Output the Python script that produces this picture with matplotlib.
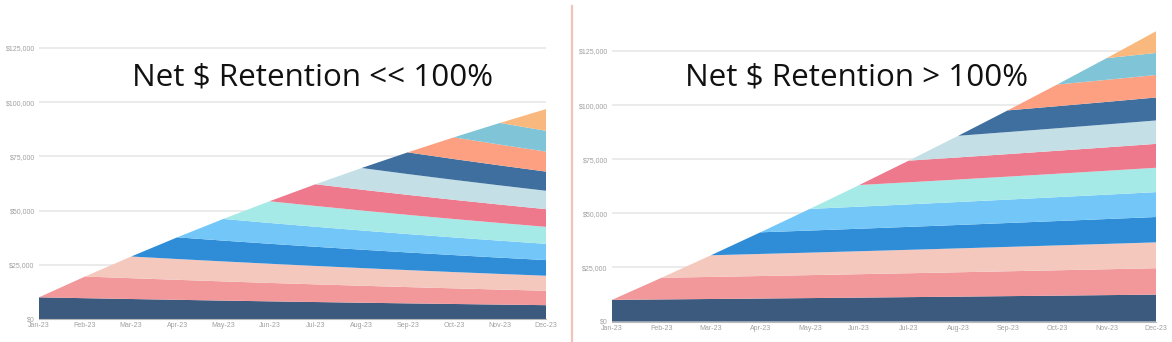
import numpy as np
import matplotlib
matplotlib.use("Agg")
import matplotlib.pyplot as plt
from matplotlib.ticker import FuncFormatter
from matplotlib.lines import Line2D

months = ["Jan-23", "Feb-23", "Mar-23", "Apr-23", "May-23", "Jun-23",
          "Jul-23", "Aug-23", "Sep-23", "Oct-23", "Nov-23", "Dec-23"]

# revenue of one cohort by month since it was acquired
low_curve = [10000, 9600, 9220, 8850, 8490, 8150, 7830, 7510, 7210, 6930, 6650, 6380]
high_curve = [10000, 10200, 10400, 10610, 10820, 11040, 11260, 11490, 11720, 11950, 12190, 12430]

yticks = [0, 25000, 50000, 75000, 100000, 125000]

titles = ["Net $ Retention << 100%", "Net $ Retention > 100%"]

colors = ["#3c5a7e", "#f2979a", "#f4c8bd", "#2f8dd7", "#72c7f8", "#a6eae7",
          "#ee788c", "#c4e0e6", "#3f6f9f", "#fca081", "#7fc4d7", "#f9b87d"]

W, H = 1172, 342


def cohort_table(curve):
    n = len(curve)
    rows = []
    for c in range(n):
        rows.append([curve[m - c] if m >= c else 0 for m in range(n)])
    return np.array(rows)


def money(v, pos):
    return "${:,.0f}".format(v)


fig = plt.figure(figsize=(W / 100, H / 100), dpi=100)
fig.patch.set_facecolor("white")

# pixel boxes: left, right, y of $0, y of $125,000
boxes = [(39, 546, 319, 48), (612, 1156, 321.5, 51)]
top_px = 22

for i, (curve, title) in enumerate(zip([low_curve, high_curve], titles)):
    x0, x1, y0, y125 = boxes[i]
    per_px = 125000 / (y0 - y125)
    ymax = (y0 - top_px) * per_px
    ax = fig.add_axes([x0 / W, 1 - y0 / H, (x1 - x0) / W, (y0 - top_px) / H])
    ax.set_facecolor("white")

    data = cohort_table(curve)
    x = np.arange(len(months))
    ax.stackplot(x, data, colors=colors, linewidth=0, zorder=2)

    ax.set_xlim(0, len(months) - 1)
    ax.set_ylim(0, ymax)
    ax.set_yticks(yticks)
    ax.yaxis.set_major_formatter(FuncFormatter(money))
    ax.set_xticks(x)
    ax.set_xticklabels(months)
    ax.grid(axis="y", color="#e8e8e8", linewidth=1.2, zorder=0)
    ax.set_axisbelow(True)
    for s in ["top", "right", "left"]:
        ax.spines[s].set_visible(False)
    ax.spines["bottom"].set_color("#b8b8b8")
    ax.spines["bottom"].set_linewidth(0.8)
    ax.tick_params(length=0, labelsize=5, labelcolor="#a0a0a0", pad=2.5,
                   labelfontfamily="Liberation Sans")
    ax.tick_params(axis="y", pad=3)

    ax.text(0.54 if i == 0 else 0.45, (y0 - 77) / (y0 - top_px), title,
            transform=ax.transAxes, ha="center", va="center",
            fontsize=22.6, family="Open Sans", color="#111111", zorder=5)

# divider between the two panels
fig.add_artist(Line2D([572 / W, 572 / W], [0, 1 - 6 / H], color="#f0c4b8",
                      linewidth=1.6))

fig.savefig("out.png", dpi=100, facecolor="white")
